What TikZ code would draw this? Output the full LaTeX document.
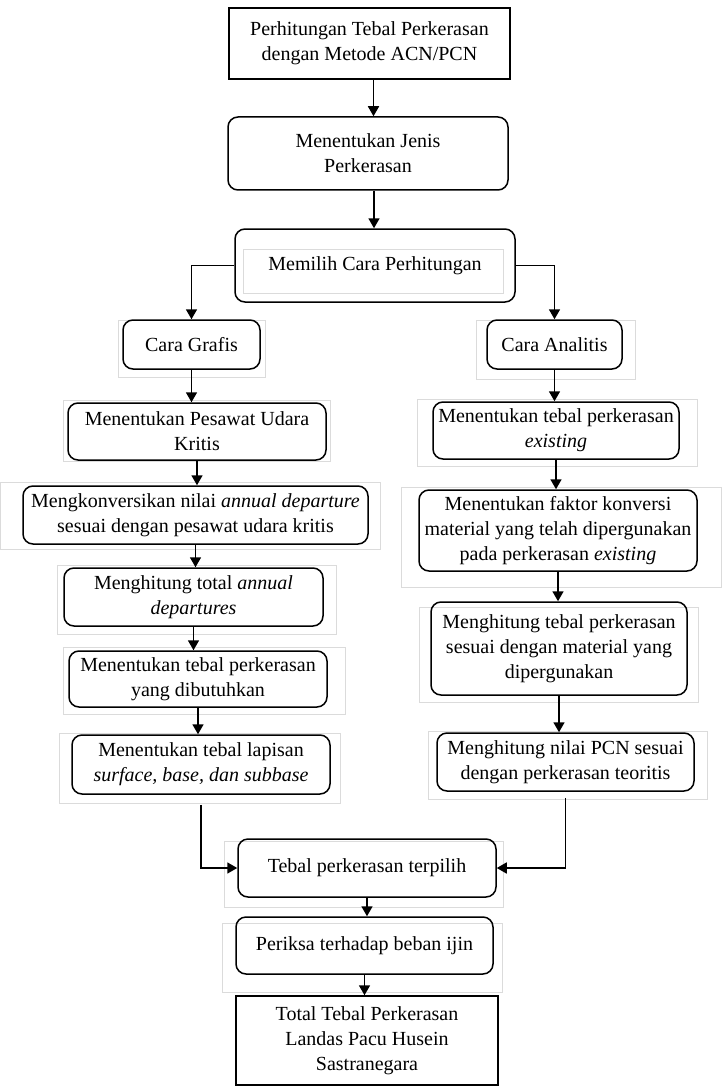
\documentclass[tikz,border=0pt]{standalone}
\usepackage{fontspec}
\setmainfont{Liberation Serif}
\usepackage{tikz}
\usetikzlibrary{arrows.meta,calc}

\begin{document}
\begin{tikzpicture}[x=1pt,y=1pt,yscale=-1,xscale=1,
    sbox/.style={draw,line width=1.5pt,inner sep=2pt,align=center,font=\fontsize{20}{25}\selectfont},
    rbox/.style={sbox,rounded corners=10pt},
    arr/.style={-{Triangle[width=11pt,length=10pt]},line width=1.7pt},
    frame/.style={draw=black!14,line width=0.7pt}]
    \useasboundingbox (0,0) rectangle (722,1086);
    %Faint text frames
    \draw[frame] (243,249) rectangle (503,293);
    \draw[frame] (118,320) rectangle (265,377);
    \draw[frame] (476,320) rectangle (635,379);
    \draw[frame] (63,400) rectangle (330,461);
    \draw[frame] (0,482) rectangle (380,549);
    \draw[frame] (57,565) rectangle (336,634);
    \draw[frame] (63,647) rectangle (345,714);
    \draw[frame] (59,733) rectangle (340,803);
    \draw[frame] (417,399) rectangle (697,466);
    \draw[frame] (401,487) rectangle (721,587);
    \draw[frame] (419,607) rectangle (698,702);
    \draw[frame] (428,731) rectangle (707,799);
    \draw[frame] (224,841) rectangle (503,907);
    \draw[frame] (222,923) rectangle (502,992);
    % Top chain
    \node[sbox,minimum width=281pt,minimum height=71pt] (start) at (369.5,43.5) {Perhitungan Tebal Perkerasan\\dengan Metode ACN/PCN};
    \node[rbox,minimum width=280pt,minimum height=73pt] (jenis) at (368,153.5) {Menentukan Jenis\\Perkerasan};
    \node[rbox,minimum width=280pt,minimum height=73pt] (pilih) at (375,265.5) {Memilih Cara Perhitungan};
    % Left column
    \node[rbox,minimum width=137pt,minimum height=49pt] (grafis) at (191.5,344.5) {Cara Grafis};
    \node[rbox,minimum width=258pt,minimum height=57pt] (pesawat) at (197,431.5) {Menentukan Pesawat Udara\\Kritis};
    \node[rbox,minimum width=345pt,minimum height=58pt] (konversi) at (195.5,515) {Mengkonversikan nilai \textit{annual departure}\\sesuai dengan pesawat udara kritis};
    \node[rbox,minimum width=259pt,minimum height=58pt] (annual) at (193.5,597) {Menghitung total \textit{annual}\\\textit{departures}};
    \node[rbox,minimum width=258pt,minimum height=56pt] (dibutuh) at (198,679) {Menentukan tebal perkerasan\\yang dibutuhkan};
    \node[rbox,minimum width=258pt,minimum height=59pt] (lapisan) at (201,764.5) {Menentukan tebal lapisan\\\textit{surface, base, dan subbase}};
    % Right column
    \node[rbox,minimum width=135pt,minimum height=49pt] (analitis) at (554.5,344.5) {Cara Analitis};
    \node[rbox,minimum width=246pt,minimum height=57pt] (existing) at (556,430.5) {Menentukan tebal perkerasan\\\textit{existing}};
    \node[rbox,minimum width=278pt,minimum height=81pt] (faktor) at (558,530.5) {Menentukan faktor konversi\\material yang telah dipergunakan\\pada perkerasan \textit{existing}};
    \node[rbox,minimum width=256pt,minimum height=93pt] (material) at (559,648.5) {Menghitung tebal perkerasan\\sesuai dengan material yang\\dipergunakan};
    \node[rbox,minimum width=257pt,minimum height=58pt] (pcn) at (565.5,762) {Menghitung nilai PCN sesuai\\dengan perkerasan teoritis};
    % Bottom chain
    \node[rbox,minimum width=258pt,minimum height=58pt] (terpilih) at (367,868) {Tebal perkerasan terpilih};
    \node[rbox,minimum width=257pt,minimum height=57pt] (periksa) at (364.5,945.5) {Periksa terhadap beban ijin};
    \node[sbox,minimum width=262pt,minimum height=89pt] (total) at (367,1040.5) {Total Tebal Perkerasan\\Landas Pacu Husein\\Sastranegara};
    %Arrows
    \draw[arr] ([xshift=4pt]start.south) -- ([xshift=4pt]start.south |- jenis.north);
    \draw[arr] ([xshift=6pt]jenis.south) -- ([xshift=6pt]jenis.south |- pilih.north);
    \draw[arr] (pilih.west) -| (grafis.north);
    \draw[arr] (pilih.east) -| (analitis.north);
    \draw[arr] (grafis.south) -- (grafis.south |- pesawat.north);
    \draw[arr] (pesawat.south) -- (pesawat.south |- konversi.north);
    \draw[arr] (konversi.south) -- (konversi.south |- annual.north);
    \draw[arr] (annual.south) -- (annual.south |- dibutuh.north);
    \draw[arr] (dibutuh.south) -- (dibutuh.south |- lapisan.north);
    \draw[arr] (analitis.south) -- (analitis.south |- existing.north);
    \draw[arr] (existing.south) -- (existing.south |- faktor.north);
    \draw[arr] (faktor.south) -- (faktor.south |- material.north);
    \draw[arr] (material.south) -- (material.south |- pcn.north);
    \draw[arr,shorten <=10pt] (lapisan.south) |- (terpilih.west);
    \draw[arr,shorten <=6pt] (pcn.south) |- (terpilih.east);
    \draw[arr] (terpilih.south) -- (terpilih.south |- periksa.north);
    \draw[arr] (periksa.south) -- (periksa.south |- total.north);
\end{tikzpicture}
\end{document}
